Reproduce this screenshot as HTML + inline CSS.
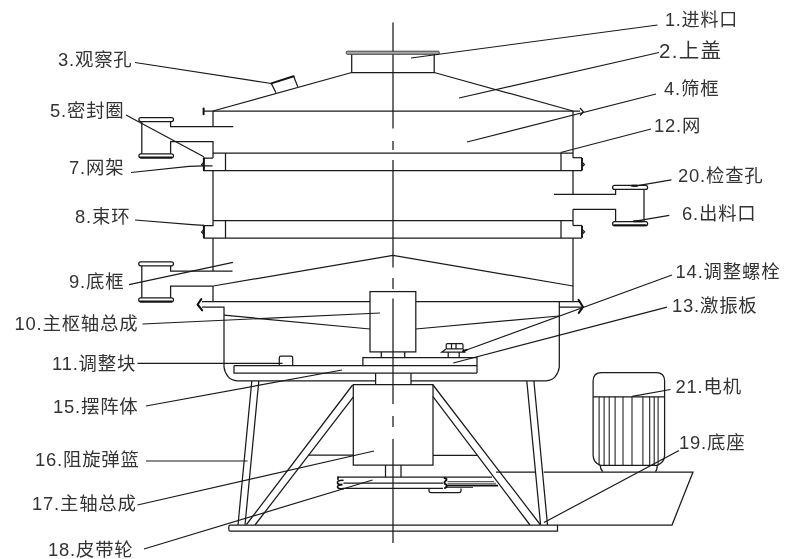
<!DOCTYPE html>
<html lang="zh">
<head>
<meta charset="utf-8">
<title>振动筛结构图</title>
<style>
  html, body { margin: 0; padding: 0; background: #fff; }
  body { width: 800px; height: 559px; overflow: hidden; position: relative; }
  svg { position: absolute; left: 0; top: 0; display: block; filter: grayscale(100%); }
  .ln { stroke: #1a1a1a; stroke-width: 1.25; fill: none; stroke-linecap: butt; stroke-linejoin: miter; }
  .ld { stroke: #1a1a1a; stroke-width: 1.2; fill: none; }
  .tk { stroke: #111; stroke-width: 2; fill: none; stroke-linecap: round; }
  .lbl { font-family: "Liberation Sans", "Noto Sans CJK SC", sans-serif; font-size: 18.4px; fill: #333; letter-spacing: 0.8px; font-weight: 400; }
</style>
</head>
<body>
<svg width="800" height="559" viewBox="0 0 800 559">
  <rect x="0" y="0" width="800" height="559" fill="#ffffff"/>

  <g id="drawing">
  <!-- centre line -->
  <g class="ln" id="centre">
    <path d="M393 22.5V128.5M393 141V150M393 160V267.5M393 278V289M393 298.5V404M393 416V427M393 439V543"/>
  </g>

  <!-- inlet -->
  <g id="inlet">
    <rect x="346.3" y="51.2" width="93" height="3.1" rx="1" fill="#a8a8a8" stroke="#333" stroke-width="0.9"/>
    <path class="ln" d="M351.7 54.6V72.5H434.2V54.6"/>
  </g>

  <!-- top cover -->
  <g id="cover" class="ln">
    <path d="M351.7 72.5L213 111M434.2 72.5L573 111"/>
    <path d="M204 111H580"/>
    <path d="M213 111V126.7M573 111V158"/>
  </g>
  <path class="tk" d="M203.6 108.5V114.2"/>
  <path class="ln" d="M580 108L583.5 112L580 115.5" stroke-width="1.3"/>

  <!-- observation hole -->
  <g id="obs">
    <path class="ln" d="M271.3 83.4L276 92.7M293.6 76.3L297.8 86.8"/>
    <path class="tk" d="M271.3 83.4L293.6 76.3" stroke-width="1.6"/>
  </g>

  <!-- upper-left outlet -->
  <g id="outletA">
    <rect class="ln" x="138.9" y="117.5" width="34.6" height="4" rx="2"/>
    <path class="ln" d="M141.8 121.5V153.8M170.6 121.5V126.7H233.3M170.6 153.8V141.6H213V158"/>
    <rect class="ln" x="138.9" y="153.8" width="34.6" height="4" rx="2"/>
    <path class="tk" d="M140.8 157.4H171.6" stroke-width="1.8"/>
  </g>

  <!-- screen layer 1 -->
  <g id="layer1" class="ln">
    <path d="M213 153H573"/>
    <path d="M203.8 170.6H582"/>
    <path d="M225.5 153V170.6M561 153V170.6"/>
    <path d="M213 158H203.8M204.5 165.8H212.5"/>
    <path d="M573 157.7H582"/>
    <path d="M213 170.6V220.6"/>
    <path d="M573 170.6V194.3M573 209.3V225.5"/>
  </g>
  <path class="tk" d="M203.9 158.3V170.3" stroke-width="1.9" stroke-linecap="butt"/>
  <path class="ln" d="M203.5 162.6L201.6 164.6L203.5 166.6" stroke-width="0.9"/>
  <path d="M582 157.9V170.4" stroke="#111" stroke-width="1.9" fill="none"/>
  <path class="ln" d="M582.4 162.4L584.4 164.5L582.4 166.6" stroke-width="0.9"/>

  <!-- screen layer 2 -->
  <g id="layer2" class="ln">
    <path d="M213 220.6H573"/>
    <path d="M203.8 238H582"/>
    <path d="M225.5 220.6V237.9M561 220.6V237.9"/>
    <path d="M213 220.6V225.5H203.8"/>
    <path d="M573 225.5H582"/>
    <path d="M213 237.9V271M213 286V301.5"/>
    <path d="M573 237.9V301.5"/>
  </g>
  <path class="tk" d="M203.9 225.8V237.6" stroke-width="1.9" stroke-linecap="butt"/>
  <path class="ln" d="M203.5 229.8L201.6 231.9L203.5 234" stroke-width="0.9"/>
  <path d="M582 225.7V237.8" stroke="#111" stroke-width="1.9" fill="none"/>
  <path class="ln" d="M582.4 229.6L584.6 231.8L582.4 234" stroke-width="0.9"/>

  <!-- right outlet -->
  <g id="outletR">
    <path class="ln" d="M554 194.3H615.6V189.4M644 189.4V221.7M573 209.3H615.6V221.7"/>
    <rect class="ln" x="612.6" y="185.4" width="35" height="4" rx="2"/>
    <rect class="ln" x="612.6" y="221.7" width="35" height="4" rx="2"/>
    <path class="tk" d="M614.5 225.2H645.5" stroke-width="1.9"/>
    <path class="tk" d="M632 185.8H637" stroke-width="1.3"/>
    <path class="tk" d="M634 221.3H642" stroke-width="1.3"/>
  </g>

  <!-- lower-left outlet -->
  <g id="outletB">
    <rect class="ln" x="138.7" y="261.8" width="34.8" height="4" rx="2"/>
    <path class="ln" d="M141.8 265.8V297.8M170.6 265.8V271H232.5M170.6 297.8V286H213"/>
    <rect class="ln" x="138.7" y="297.8" width="34.8" height="4" rx="2"/>
    <path class="tk" d="M140.5 301.5H171.5" stroke-width="1.7"/>
  </g>

  <!-- inner cone -->
  <path class="ln" d="M213.2 286L393 255.5L573 286"/>

  <!-- rim -->
  <g id="rim" class="ln">
    <path d="M202 301.5H370M415.7 301.5H580"/>
    <path d="M202 307H224V367Q224.6 372.5 228.3 376.8Q231 380 237.3 380.9H375.6"/>
    <path d="M582 307H559.3V367Q558.7 372.5 555 376.8Q552.3 380 546 380.9H411M559.3 301.5V307"/>
    <path d="M224 315.2L370 329M415.7 329L559 316"/>
  </g>
  <path d="M201.3 299.2L197.6 304.5L202.2 310.3" stroke="#111" stroke-width="2.1" fill="none" stroke-linecap="round" stroke-linejoin="round"/>
  <path d="M578.5 299.8L583 307L578.8 312.8" stroke="#111" stroke-width="2.1" fill="none" stroke-linecap="round" stroke-linejoin="round"/>

  <!-- centre box -->
  <g id="box" class="ln">
    <rect x="370" y="291.6" width="45.8" height="60.3"/>
    <path d="M381.3 352V357.5M404.7 352V357.5"/>
    <path d="M362.9 365.7V357.6H477V373"/>
    <path d="M234 365.7H477M234 365.7V373H477"/>
    <path d="M375.6 373V384M411 373V384"/>
  </g>

  <!-- adjust block -->
  <path class="ln" d="M279.3 365.7V358Q279.3 356.2 281 356.2H291Q292.7 356.2 292.7 358V365.7"/>

  <!-- bolt -->
  <g id="bolt" class="ln">
    <rect x="446.2" y="343.7" width="16.8" height="5.2" rx="1.2"/>
    <path d="M451.5 343.7V348.9M456 343.7V348.9"/>
    <path d="M446.2 348.9L441.8 352H464.8L463 348.9"/>
    <path d="M448.2 352V357.5M459.2 352V357.5"/>
  </g>

  <!-- housing -->
  <g id="housing" class="ln">
    <path d="M353.3 384.5H433V465.2H353.3Z"/>
    <path d="M385.5 465V477M401 465V477"/>
  </g>

  <!-- pulley -->
  <g id="pulley" class="ln">
    <path d="M337.5 477H492M343.5 483H443M343.5 488.3H443"/>
    <path d="M429 488.5V490.8Q429 492.6 431 492.6H459Q461 492.6 461 490.8V488.5"/>
  </g>
  <path d="M338 477V479.5M343 480.2Q336.8 480.2 337.5 483Q338 485 342.5 484.6Q336.8 484.8 337.6 487.4Q338.4 489.3 343.5 488.6" stroke="#111" stroke-width="1.6" fill="none" stroke-linecap="round"/>
  <path d="M444.5 478Q448 479 445.5 481Q443 483 446 484.5Q448.5 486 445 488" stroke="#111" stroke-width="2" fill="none" stroke-linecap="round"/>
  <g id="belt">
    <path d="M447.5 481.5H494" stroke="#444" stroke-width="0.9" fill="none"/>
    <path d="M447.5 483.6H496" stroke="#777" stroke-width="1.6" fill="none"/>
    <path d="M447.5 485.6H498" stroke="#111" stroke-width="1.6" fill="none"/>
    <path d="M447 487.4H473" stroke="#333" stroke-width="1" fill="none"/>
  </g>

  <!-- legs & braces -->
  <g id="legs" class="ln">
    <path d="M251.8 381L238 525M258.8 381L245 525"/>
    <path d="M526.8 381L540.6 525M533.9 381L547.5 525"/>
    <path d="M352.6 385L246.5 524.5M353.2 397.2L255 525"/>
    <path d="M433 385L540.2 524.5M433 396.6L530 525"/>
    <path d="M308.8 455.2H353.3M433 455.4H477.5"/>
  </g>

  <!-- base plate -->
  <path class="ln" d="M557.5 525H230.5Q228.8 525 228.8 526.7V529.5Q228.8 531.2 230.5 531.2H557.5V525"/>

  <!-- motor base -->
  <path class="ln" d="M496 472H535.6M543.7 472H693L672 525H557"/>

  <!-- motor -->
  <g id="motor" class="ln">
    <path d="M593.1 455V381Q593.1 372.5 601.5 372.5H656.2Q664.6 372.5 664.6 381V455Q664.6 462.5 657 465.4H600.5Q593.1 462.5 593.1 455Z"/>
    <path d="M593.1 396.8H664.6"/>
    <path d="M599.1 396.8V465.4M604.1 396.8V465.4M609.2 396.8V465.4M615.1 396.8V465.4M623.0 396.8V465.4M632.0 396.8V465.4M642.9 396.8V465.4M649.7 396.8V465.4M654.2 396.8V465.4M658.1 396.8V465.4" stroke-width="1.05"/>
    <path d="M600.3 465.4Q600.6 470 603 471.6M657.2 465.4Q657.2 470 655.4 471.6"/>
  </g>

  <!-- leaders -->
  <g id="leaders" class="ld">
    <path d="M411 58L657.5 25"/>
    <path d="M459 98L659 52.5"/>
    <path d="M467 142L656 94"/>
    <path d="M560.7 152.5L651 129"/>
    <path d="M633.3 186.3L671.4 179.8"/>
    <path d="M635.4 221.2L669.3 215.3"/>
    <path d="M463 351.2L672 275"/>
    <path d="M453.3 363L667 307.2"/>
    <path d="M632.2 396.3L670.5 389.5"/>
    <path d="M544 522.5L679 450.5"/>
    <path d="M135 62.5L271.5 83.5"/>
    <path d="M126 115L203.8 156.8"/>
    <path d="M131 172.5L189 166.3L203 165.8"/>
    <path d="M135 220L192 224.6L204 225.4"/>
    <path d="M129 284.6L233 262.3"/>
    <path d="M142.5 324L380 313"/>
    <path d="M137.5 363.4H282.5"/>
    <path d="M146 406L342 370"/>
    <path d="M146 461H247.5"/>
    <path d="M137.5 505L374 451"/>
    <path d="M144 549L372.5 480"/>
  </g>
  <path d="M463 351.2L466.5 349.9" stroke="#111" stroke-width="2" fill="none" stroke-linecap="round"/>

  </g>

  <!-- labels -->
  <g class="lbl">
    <text x="665" y="25.5" style="font-size:18px">1.进料口</text>
    <text x="659" y="58" style="font-size:20.5px;letter-spacing:1.3px">2.上盖</text>
    <text x="664" y="95.3">4.筛框</text>
    <text x="654" y="132">12.网</text>
    <text x="678" y="182">20.检查孔</text>
    <text x="682" y="220">6.出料口</text>
    <text x="675.6" y="278">14.调整螺栓</text>
    <text x="672" y="312">13.激振板</text>
    <text x="675.5" y="392.5">21.电机</text>
    <text x="679" y="449">19.底座</text>

    <text x="58" y="66">3.观察孔</text>
    <text x="50" y="117">5.密封圈</text>
    <text x="69" y="173.5">7.网架</text>
    <text x="75" y="222.5">8.束环</text>
    <text x="69" y="288">9.底框</text>
    <text x="14.5" y="330.3">10.主枢轴总成</text>
    <text x="52" y="370">11.调整块</text>
    <text x="53" y="412.5">15.摆阵体</text>
    <text x="35" y="466">16.阻旋弹篮</text>
    <text x="32" y="509.5">17.主轴总成</text>
    <text x="48" y="555.5">18.皮带轮</text>
  </g>
</svg>
</body>
</html>
